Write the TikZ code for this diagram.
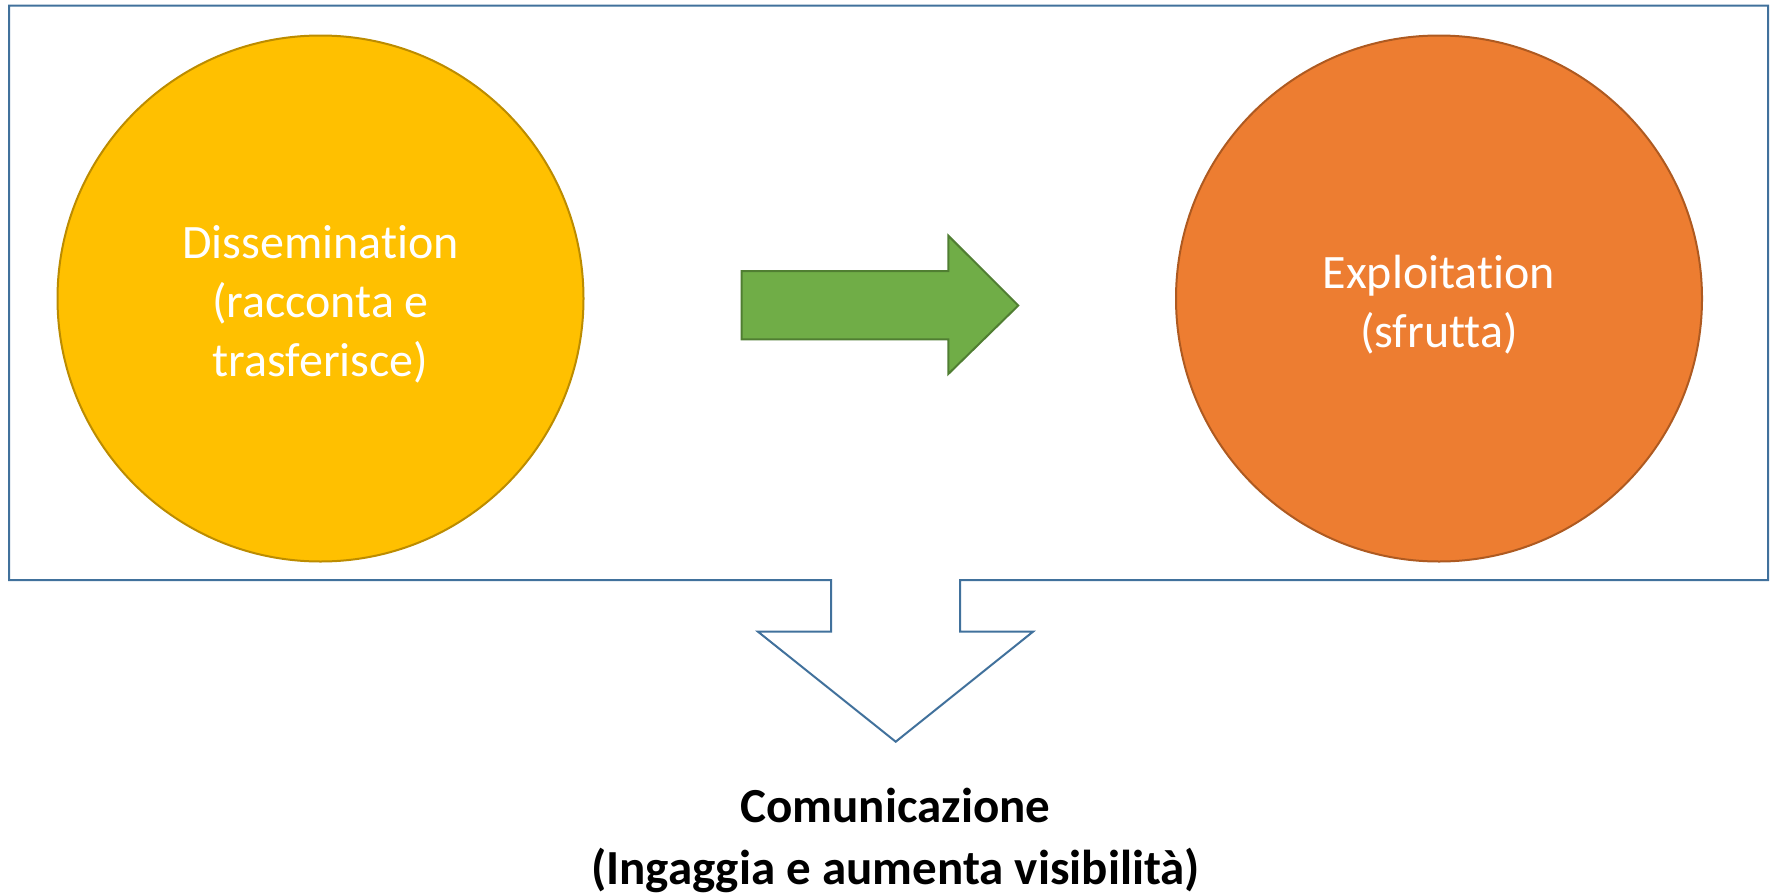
\documentclass[tikz,border=0pt]{standalone}
\usepackage{fontspec}
\setmainfont[Ligatures={NoCommon,NoRequired,NoContextual,NoRare,NoDiscretionary}]{Carlito}
\definecolor{frameblue}{HTML}{41719C}
\definecolor{yelfill}{HTML}{FFC000}
\definecolor{yeldraw}{HTML}{BC8C00}
\definecolor{orafill}{HTML}{ED7D31}
\definecolor{oradraw}{HTML}{AE5A21}
\definecolor{grnfill}{HTML}{70AD47}
\definecolor{grndraw}{HTML}{507E32}
\tikzset{
  bubble/.style={circle, minimum size=526pt, inner sep=0pt, line width=2pt},
  bubbletext/.style={text=white, align=center, font=\fontsize{48}{59}\selectfont},
  outline/.style={draw=frameblue, line width=2pt, line join=miter},
  greenarrow/.style={fill=grnfill, draw=grndraw, line width=2pt},
  caption/.style={align=center, font=\bfseries\fontsize{49}{62}\selectfont, text=black}
}
\begin{document}
\begin{tikzpicture}[x=1pt,y=-1pt]
\useasboundingbox (0,0) rectangle (1770,894);
% frame with downward arrow
\draw[outline] (831,580) -- (9,580) -- (9,5.6) -- (1768,5.6) -- (1768,580) -- (960,580)
  -- (960,631.7) -- (1033,631.7) -- (895.7,741.7) -- (758,631.7) -- (831,631.7) -- cycle;
% circles
\node[bubble, fill=yelfill, draw=yeldraw] (diss) at (320.5,298.5) {};
\node[bubble, fill=orafill, draw=oradraw] (expl) at (1439,298.5) {};
\node[bubbletext] (disstext) at (320.5,304.5) {Dissemination\\(racconta e\\trasferisce)};
\node[bubbletext] (expltext) at (1439,304.5) {Exploitation\\(sfrutta)};
% green arrow
\draw[greenarrow] (741.7,271) -- (948.3,271) -- (948.3,235.7) -- (1018.3,305.5) -- (948.3,374)
  -- (948.3,339.3) -- (741.7,339.3) -- cycle;
% caption
\node[caption] (com) at (895.5,840) {Comunicazione\\(Ingaggia e aumenta visibilità)};
\end{tikzpicture}
\end{document}
